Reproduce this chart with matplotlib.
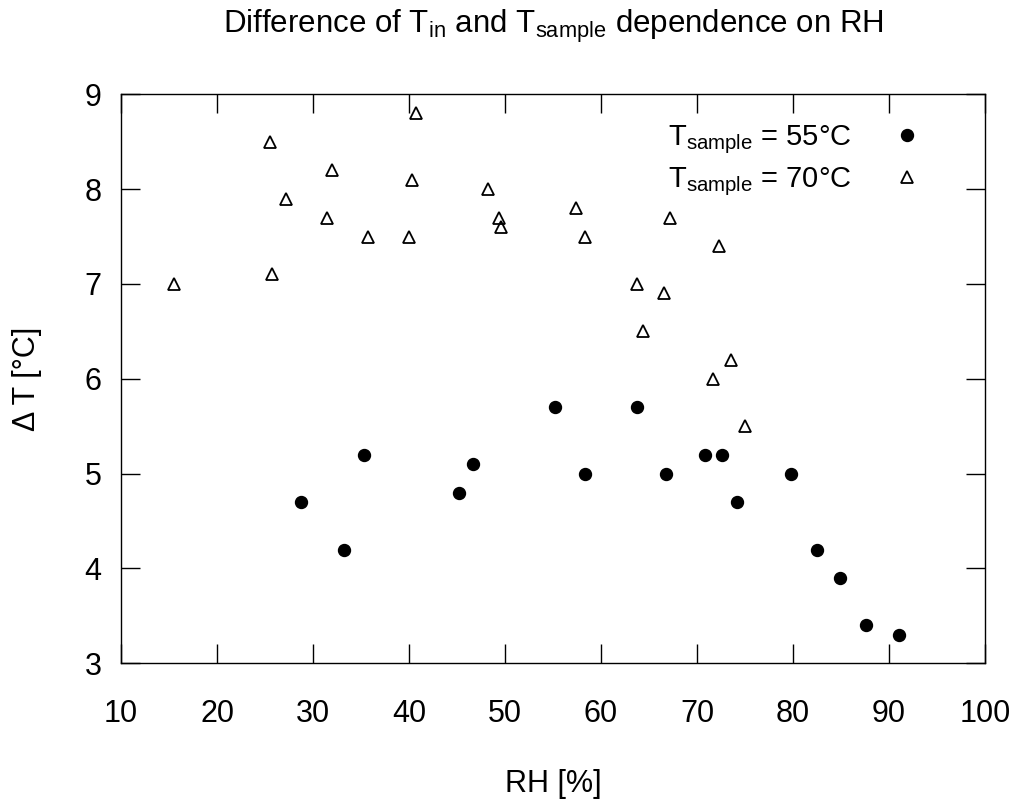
import matplotlib

matplotlib.use("Agg")
import matplotlib.pyplot as plt

plt.rcParams["font.family"] = ["Liberation Sans", "DejaVu Sans"]
plt.rcParams["mathtext.fontset"] = "custom"
plt.rcParams["mathtext.rm"] = "Liberation Sans"
plt.rcParams["mathtext.it"] = "Liberation Sans"

# T_sample = 55 C
rh_55 = [28.8, 33.2, 35.3, 45.2, 46.7, 55.2, 58.3, 63.7, 66.8, 70.8,
         72.6, 74.2, 79.8, 82.5, 84.9, 87.6, 91.0]
dt_55 = [4.7, 4.2, 5.2, 4.8, 5.1, 5.7, 5.0, 5.7, 5.0, 5.2,
         5.2, 4.7, 5.0, 4.2, 3.9, 3.4, 3.3]

# T_sample = 70 C
rh_70 = [15.5, 25.5, 25.7, 27.2, 31.5, 32.0, 35.7, 40.0, 40.3, 40.7,
         48.2, 49.4, 49.6, 57.4, 58.3, 63.7, 64.4, 66.6, 67.2, 71.7,
         72.3, 73.5, 75.0]
dt_70 = [7.0, 8.5, 7.1, 7.9, 7.7, 8.2, 7.5, 7.5, 8.1, 8.8,
         8.0, 7.7, 7.6, 7.8, 7.5, 7.0, 6.5, 6.9, 7.7, 6.0,
         7.4, 6.2, 5.5]

fig = plt.figure(figsize=(10.22, 8.05), dpi=100)
ax = fig.add_axes([0.1184, 0.176, 0.8454, 0.7069])

ax.plot(rh_55, dt_55, "o", ms=8.6, color="black", mec="black",
        label=r"T$_{\mathrm{sample}}$ = 55°C")
ax.plot(rh_70, dt_70, "^", ms=8.5, mfc="none", mec="black", mew=1.3,
        label=r"T$_{\mathrm{sample}}$ = 70°C")

ax.set_xlim(10, 100)
ax.set_ylim(3, 9)
ax.set_xticks(range(10, 101, 10))
ax.set_yticks(range(3, 10))
ax.tick_params(direction="in", length=14, width=1.0, labelsize=22,
               top=True, right=True)
ax.tick_params(axis="x", pad=25.5)
ax.tick_params(axis="y", pad=14)
for s in ax.spines.values():
    s.set_linewidth(1.0)

ax.set_xlabel("RH [%]", fontsize=22, labelpad=29)
ax.set_ylabel("Δ T [°C]", fontsize=22, labelpad=31)
ax.set_title(r"Difference of T$_{\mathrm{in}}$ and T$_{\mathrm{sample}}$ dependence on RH",
             fontsize=22.5, pad=44)

ax.legend(loc="upper right", frameon=False, markerfirst=False, fontsize=21,
          handletextpad=0.9, labelspacing=0.32, borderaxespad=0.6,
          bbox_to_anchor=(0.977, 1.0))

fig.savefig("out.png", dpi=100)
